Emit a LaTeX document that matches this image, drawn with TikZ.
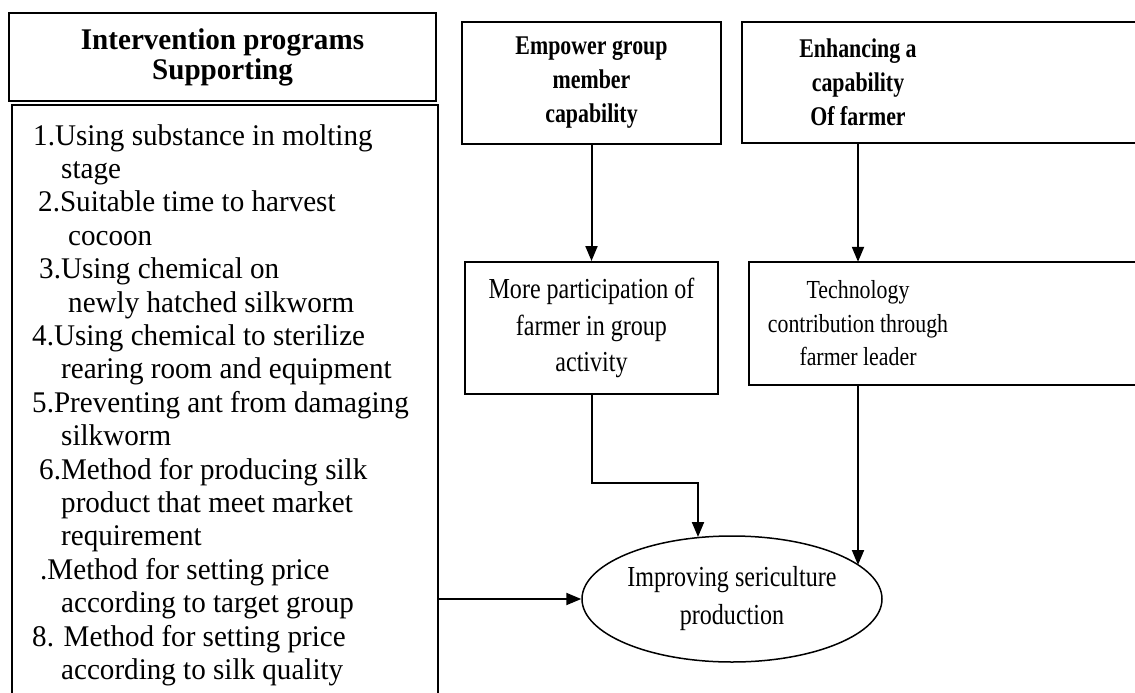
\documentclass[tikz,border=0pt]{standalone}
\usepackage{fontspec}
\setmainfont{Liberation Serif}[FakeStretch=0.97]
\newfontfamily\cond[FakeStretch=0.81]{Liberation Serif}
\newfontfamily\condm[FakeStretch=0.83]{Liberation Serif}
\newfontfamily\condt[FakeStretch=0.84]{Liberation Serif}
\usetikzlibrary{arrows.meta,shapes.geometric}
\begin{document}
\begin{tikzpicture}[x=1pt,y=-1pt,
  box/.style={draw, line width=2pt, rectangle, inner sep=0pt},
  arr/.style={line width=2pt, -{Triangle[length=15pt,width=12pt]}},
  hfont/.style={font=\fontsize{30}{30}\selectfont\bfseries, align=center},
  rbfont/.style={font=\cond\fontsize{27}{34}\selectfont\bfseries, align=center},
  rfont/.style={font=\condm\fontsize{29}{36.5}\selectfont, align=center},
  tfont/.style={font=\condt\fontsize{26}{33.5}\selectfont, align=center},
  efont/.style={font=\condm\fontsize{29}{38}\selectfont, align=center},
  lfont/.style={font=\fontsize{30}{33}\selectfont, anchor=base west, inner sep=0pt}
]
\useasboundingbox (0,0) rectangle (1135,693);
\clip (0,0) rectangle (1135,693);
\coordinate (rEdge) at (1160,0);

% left column
\node[box, minimum width=427pt, minimum height=88pt, hfont] (hdr) at (222.5,57) {Intervention programs\\Supporting};
\node[box, minimum width=426pt, minimum height=640pt, anchor=north west] (list) at (11,104) {};
\foreach \dx/\t [count=\i] in {
  1/{1.Using substance in molting},
  29/{stage},
  6/{2.Suitable time to harvest},
  36/{cocoon},
  7/{3.Using chemical on},
  36/{newly hatched silkworm},
  0/{4.Using chemical to sterilize},
  29/{rearing room and equipment},
  0/{5.Preventing ant from damaging},
  29/{silkworm},
  7/{6.Method for producing silk},
  29/{product that meet market},
  29/{requirement},
  8/{.Method for setting price},
  29/{according to target group},
  0/{8. Method for setting price},
  29/{according to silk quality}}
  \node[lfont] (li\i) at ({32+\dx},{145+33.4*(\i-1)}) {\t};

% top boxes
\node[box, minimum width=259pt, minimum height=122pt, rbfont] (emp) at (591.5,83) {Empower group\\member\\capability};
\node[inner sep=0pt, minimum width=232pt, minimum height=121pt, rbfont] (enh) at (858,82.5) {Enhancing a\\capability\\Of farmer};
\draw[box] (enh.north west) rectangle (enh.south west -| rEdge);

% middle boxes
\node[box, minimum width=253pt, minimum height=132pt, rfont] (part) at (591.5,328) {More participation of\\farmer in group\\activity};
\node[inner sep=0pt, minimum width=218pt, minimum height=123pt, tfont] (tech) at (858,323.5) {Technology\\contribution through\\farmer leader};
\draw[box] (tech.north west) rectangle (tech.south west -| rEdge);

% outcome
\node[draw, ellipse, line width=1.5pt, minimum width=300pt, minimum height=126pt, inner sep=0pt, efont] (ell) at (732,599) {Improving sericulture\\production};

% connectors
\coordinate (j1) at (698,483);
\coordinate (e1) at (698,537);
\coordinate (e2) at (858,565);
\draw[arr] (emp.south) -- (part.north);
\draw[arr] (enh.south) -- (enh.south |- tech.north);
\draw[arr] (part.south) |- (j1) -- (e1);
\draw[arr] (tech.south) -- (e2);
\draw[arr] (ell.west -| list.east) -- (ell.west);
\end{tikzpicture}
\end{document}
